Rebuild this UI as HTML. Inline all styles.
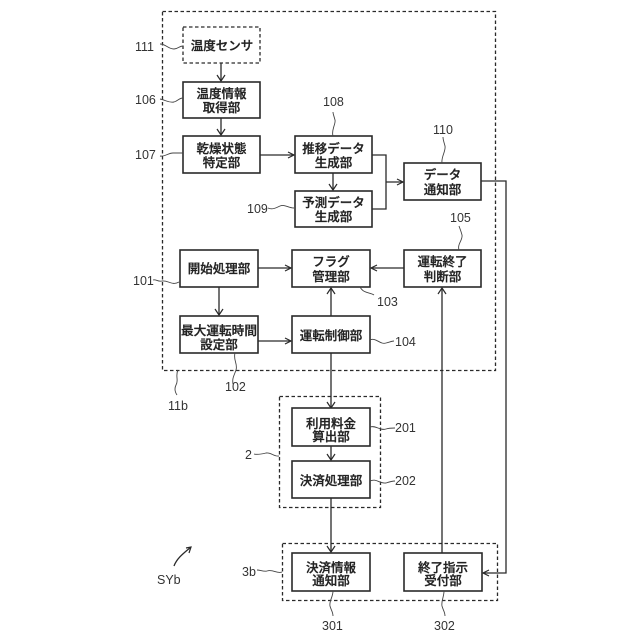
<!DOCTYPE html>
<html><head><meta charset="utf-8">
<style>
html,body{margin:0;padding:0;background:#fff;width:640px;height:640px;overflow:hidden}
svg{display:block}
.b{fill:#fff;stroke:#2a2a2a;stroke-width:1.6}
.d{fill:none;stroke:#2a2a2a;stroke-width:1.3;stroke-dasharray:3.500 2.500}
.l{fill:none;stroke:#2a2a2a;stroke-width:1.3}
.w{fill:none;stroke:#444;stroke-width:.9}
.a{fill:none;stroke:#2a2a2a;stroke-width:1.2}
text{font-family:"Liberation Sans","Noto Sans CJK JP",sans-serif;fill:#222}
.t{font-size:12.5px;text-anchor:middle;font-weight:500;stroke:#222;stroke-width:.3}
.n{font-size:12.500px;fill:#333}
</style></head><body>
<svg width="640" height="640" viewBox="0 0 640 640" xmlns="http://www.w3.org/2000/svg">
<rect class="d" x="162.500" y="11.500" width="333" height="359"/>
<rect class="d" x="279.500" y="396.500" width="101" height="111"/>
<rect class="d" x="282.500" y="543.500" width="215" height="57"/>
<rect class="d" x="183" y="27" width="77" height="36"/>

<path class="l" d="M221 63V81M221 118V135M260 155H294M333 173V190M372 155H386V209H372M386 182H403M481 181H506V573H483M404 268H371M258 268H291M219 287V315M258 341H291M331 316V288M331 353V408M331 446V460M331 498V552M442 553V288"/>
<path class="a" d="M217 75L221 81L225 75M217 129L221 135L225 129M288 152L294 155L288 158M329 184L333 190L337 184M397 179L403 182L397 185M377 265L371 268L377 271M285 265L291 268L285 271M215 309L219 315L223 309M285 338L291 341L285 344M327 294L331 288L335 294M327 402L331 408L335 402M327 454L331 460L335 454M327 546L331 552L335 546M438 294L442 288L446 294M489 570L483 573L489 576"/>

<g class="boxes">
<rect class="b" x="183" y="82" width="77" height="36"/>
<rect class="b" x="183" y="136" width="77" height="37"/>
<rect class="b" x="295" y="136" width="77" height="37"/>
<rect class="b" x="295" y="191" width="77" height="36"/>
<rect class="b" x="404" y="163" width="77" height="37"/>
<rect class="b" x="404" y="250" width="77" height="37"/>
<rect class="b" x="292" y="250" width="78" height="37"/>
<rect class="b" x="180" y="250" width="78" height="37"/>
<rect class="b" x="180" y="316" width="78" height="37"/>
<rect class="b" x="292" y="316" width="78" height="37"/>
<rect class="b" x="292" y="408" width="78" height="38"/>
<rect class="b" x="292" y="461" width="78" height="37"/>
<rect class="b" x="292" y="553" width="78" height="38"/>
<rect class="b" x="404" y="553" width="78" height="38"/>
</g>

<path class="w" d="M160 44C166 44 168 49 174 49C178 49 179 46 183 46M160 99C166 100 168 103 174 102C178 101 179 98 183 98M160 156C165 157 168 153 173 153C177 153 179 153 183 153M333 136C331 130 336 124 335 120C334 116 333 114 333 112M294 208C288 208 285 204 280 206C276 208 272 210 268 208M442 163C441 157 446 151 445 146C444 142 443 140 443 137M459 250C457 244 463 240 462 235C461 231 460 229 459 226M179 282C172 286 168 280 162 281C158 282 156 279 153 280M235 353C233 360 238 364 236 370C234 376 232 378 233 384M178 370C175 376 179 380 176 385C174 389 175 392 177 395M360 287C364 294 370 292 374 295M370 340C376 337 380 345 386 343C390 342 392 341 394 341M370 427C376 425 380 431 386 429C389 428 392 428 395 428M370 481C376 478 380 484 386 483C389 482 392 481 395 481M279 456C274 457 271 452 266 453C262 454 258 455 254 454M282 572C277 574 273 569 267 571C264 572 260 570 257 570M333 591C333 597 329 601 330 606C331 610 333 612 333 616M444 591C444 597 441 601 442 606C443 610 445 612 445 616"/>
<path class="l" d="M174 566C177 558 184 553 191 547"/>
<path class="a" d="M186 548L191 547L189 553"/>

<g class="t">
<text class="t" x="222" y="50">温度センサ</text>
<text class="t" x="221.500" y="98">温度情報</text><text class="t" x="221.500" y="112">取得部</text>
<text class="t" x="221.500" y="153">乾燥状態</text><text class="t" x="221.500" y="167">特定部</text>
<text class="t" x="333.500" y="153">推移データ</text><text class="t" x="333.500" y="167">生成部</text>
<text class="t" x="333.500" y="207">予測データ</text><text class="t" x="333.500" y="221">生成部</text>
<text class="t" x="442.500" y="179">データ</text><text class="t" x="442.500" y="194">通知部</text>
<text class="t" x="442.500" y="266">運転終了</text><text class="t" x="442.500" y="281">判断部</text>
<text class="t" x="331" y="266">フラグ</text><text class="t" x="331" y="281">管理部</text>
<text class="t" x="219" y="273">開始処理部</text>
<text class="t" x="219" y="335" textLength="76" lengthAdjust="spacingAndGlyphs">最大運転時間</text><text class="t" x="219" y="349">設定部</text>
<text class="t" x="331" y="340">運転制御部</text>
<text class="t" x="331" y="428">利用料金</text><text class="t" x="331" y="441">算出部</text>
<text class="t" x="331" y="485">決済処理部</text>
<text class="t" x="331" y="572">決済情報</text><text class="t" x="331" y="585">通知部</text>
<text class="t" x="443" y="572">終了指示</text><text class="t" x="443" y="585">受付部</text>
</g>

<g class="n">
<text class="n" x="135" y="51">111</text>
<text class="n" x="135" y="104">106</text>
<text class="n" x="135" y="159">107</text>
<text class="n" x="323" y="106">108</text>
<text class="n" x="247" y="213">109</text>
<text class="n" x="433" y="134">110</text>
<text class="n" x="450" y="222">105</text>
<text class="n" x="133" y="285">101</text>
<text class="n" x="225" y="391">102</text>
<text class="n" x="168" y="410">11b</text>
<text class="n" x="377" y="306">103</text>
<text class="n" x="395" y="346">104</text>
<text class="n" x="395" y="432">201</text>
<text class="n" x="395" y="485">202</text>
<text class="n" x="245" y="459">2</text>
<text class="n" x="242" y="576">3b</text>
<text class="n" x="157" y="584">SYb</text>
<text class="n" x="322" y="630">301</text>
<text class="n" x="434" y="630">302</text>
</g>
</svg>
</body></html>
